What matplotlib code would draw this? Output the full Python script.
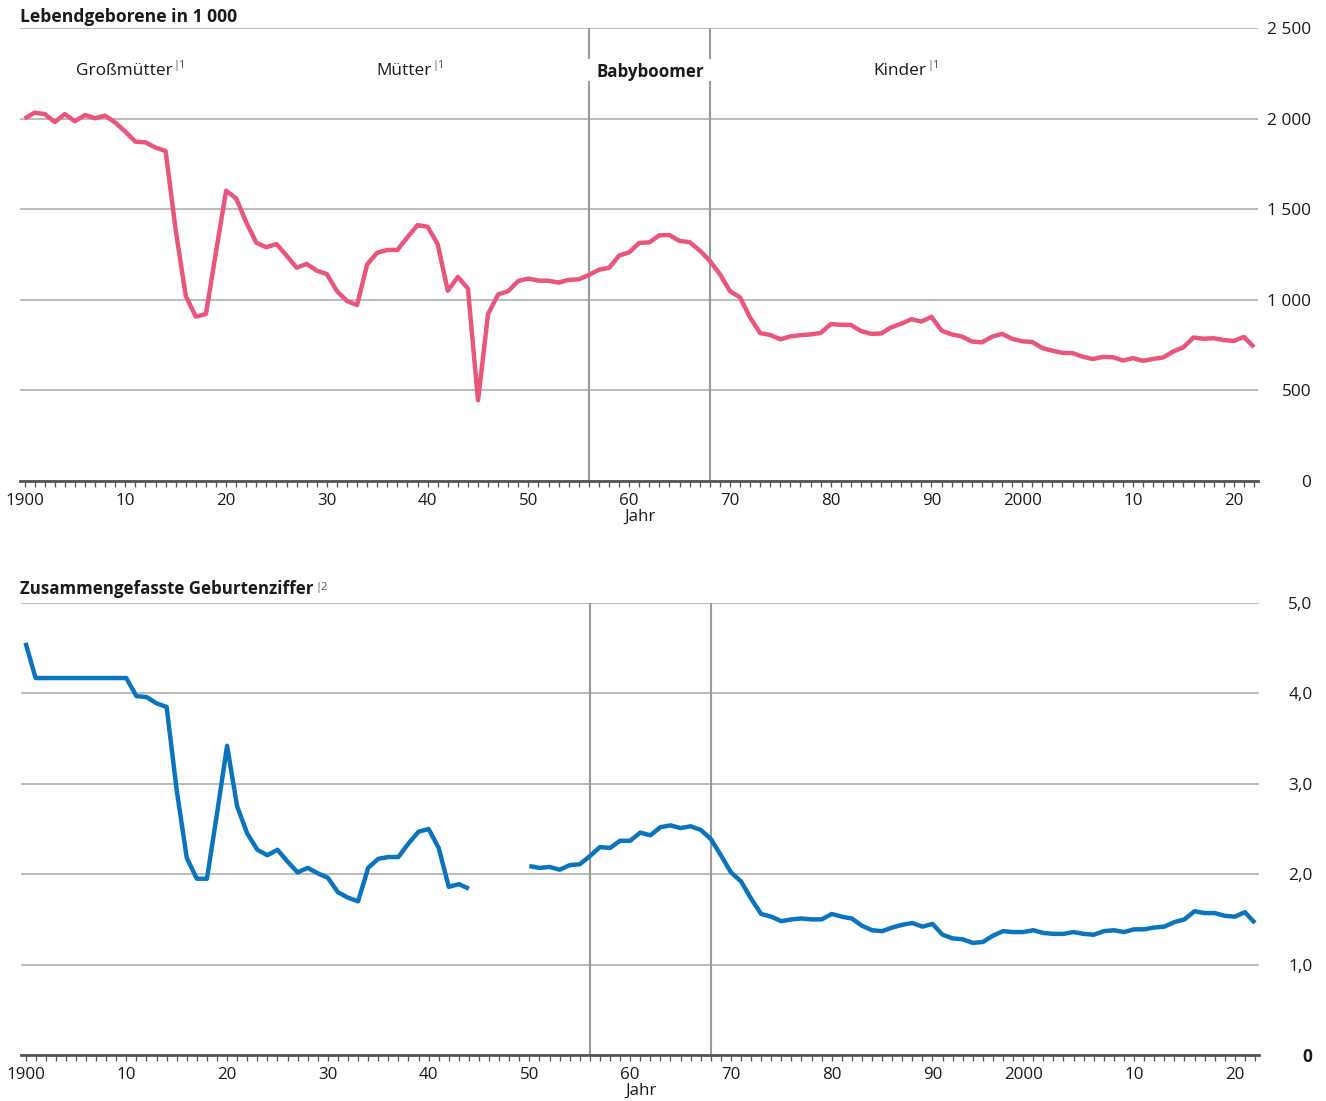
import numpy as np
import matplotlib
matplotlib.use("Agg")
import matplotlib.pyplot as plt
from matplotlib.transforms import ScaledTranslation

plt.rcParams['font.family'] = ['Open Sans', 'DejaVu Sans']

# ---------------- data ----------------
years = list(range(1900, 2023))

births = [2000, 2033, 2025, 1981, 2025, 1985, 2020, 2002, 2016, 1978,
          1928, 1873, 1869, 1840, 1821, 1385, 1021, 907, 922, 1264,
          1602, 1560, 1428, 1315, 1290, 1308, 1244, 1177, 1198, 1161,
          1142, 1048, 993, 971, 1196, 1260, 1275, 1275, 1345, 1412,
          1403, 1307, 1050, 1126, 1062, 445, 922, 1030, 1048, 1104,
          1117, 1106, 1105, 1095, 1110, 1113, 1137, 1166, 1176, 1244,
          1262, 1314, 1317, 1356, 1357, 1325, 1318, 1272, 1215, 1142,
          1048, 1013, 902, 816, 806, 782, 798, 805, 809, 817,
          866, 862, 861, 828, 812, 814, 848, 868, 893, 880,
          906, 830, 809, 798, 770, 765, 796, 812, 785, 771,
          767, 734, 719, 707, 706, 686, 673, 685, 683, 665,
          678, 663, 674, 682, 715, 738, 792, 785, 788, 778,
          773, 795, 739]

nan = float('nan')
tfr = [4.56, 4.17, 4.17, 4.17, 4.17, 4.17, 4.17, 4.17, 4.17, 4.17,
       4.17, 3.97, 3.96, 3.89, 3.85, 2.93, 2.18, 1.95, 1.95, 2.67,
       3.42, 2.75, 2.45, 2.27, 2.21, 2.27, 2.14, 2.02, 2.07, 2.01,
       1.96, 1.80, 1.74, 1.70, 2.07, 2.17, 2.19, 2.19, 2.34, 2.47,
       2.50, 2.29, 1.86, 1.89, 1.84, nan, nan, nan, nan, nan,
       2.09, 2.07, 2.08, 2.05, 2.10, 2.11, 2.20, 2.30, 2.29, 2.37,
       2.37, 2.46, 2.43, 2.52, 2.54, 2.51, 2.53, 2.49, 2.39, 2.21,
       2.02, 1.92, 1.73, 1.56, 1.53, 1.48, 1.50, 1.51, 1.50, 1.50,
       1.56, 1.53, 1.51, 1.43, 1.38, 1.37, 1.41, 1.44, 1.46, 1.42,
       1.45, 1.33, 1.29, 1.28, 1.24, 1.25, 1.32, 1.37, 1.36, 1.36,
       1.38, 1.35, 1.34, 1.34, 1.36, 1.34, 1.33, 1.37, 1.38, 1.36,
       1.39, 1.39, 1.41, 1.42, 1.47, 1.50, 1.59, 1.57, 1.57, 1.54,
       1.53, 1.58, 1.46]

x_major = list(range(1900, 2030, 10))
x_labels = ["1900", "10", "20", "30", "40", "50", "60", "70", "80", "90", "2000", "10", "20"]

top_yticks = [0, 500, 1000, 1500, 2000, 2500]
top_ylabels = ["0", "500", "1 000", "1 500", "2 000", "2 500"]
bot_yticks = [0, 1, 2, 3, 4, 5]
bot_ylabels = ["0", "1,0", "2,0", "3,0", "4,0", "5,0"]

boomer_start, boomer_end = 1956, 1968

top_title = "Lebendgeborene in 1 000"
bot_title = "Zusammengefasste Geburtenziffer"
generations = [("Großmütter", 76, "1"), ("Mütter", 376, "1"), ("Kinder", 873, "1")]

# ---------------- layout ----------------
W, H = 1326, 1101
fig = plt.figure(figsize=(W / 100, H / 100), dpi=100)
renderer = fig.canvas.get_renderer()

def fx(x):
    return x / W

def fy(y):
    return 1 - y / H

def fit_size(s, target_px, weight="normal", base=12.0):
    t = fig.text(0, 0, s, fontsize=base, fontweight=weight)
    w = t.get_window_extent(renderer).width
    t.remove()
    return base * target_px / w

PINK = "#E9567A"
BLUE = "#0A74BC"
GRID = "#A8A8A8"
VLINE = "#9A9A9A"
AXC = "#555555"
TXT = "#1A1A1A"
SUPC = "#555555"

fs_tick = fit_size("2000", 39)
fs_ylab = fit_size("2 500", 44)
fs_title = fit_size(top_title, 216, "bold")
fs_title2 = fit_size(bot_title, 292, "bold")
fs_gen = fit_size("Großmütter", 95.7)
fs_boom = fit_size("Babyboomer", 106.6, "bold")

ax1 = fig.add_axes([fx(20), fy(481), fx(1258) - fx(20), fy(28) - fy(481)])
ax2 = fig.add_axes([fx(21), fy(1055), fx(1259) - fx(21), fy(603) - fy(1055)])

TL = 4.3
TP = 4.5
for ax in (ax1, ax2):
    ax.set_xlim(1899.55, 2022.4)
    for s in ("top", "left", "right"):
        ax.spines[s].set_visible(False)
    ax.spines["bottom"].set_color(AXC)
    ax.spines["bottom"].set_linewidth(2.0)
    ax.spines["bottom"].set_zorder(5)
    labs = [l if l != "2000" else "" for l in x_labels]
    ax.set_xticks(x_major, labels=labs)
    ax.set_xticks(years, minor=True)
    ax.tick_params(axis="x", which="both", direction="out", length=TL,
                   width=0.9, color=AXC, pad=TP, labelsize=fs_tick, labelcolor=TXT)
    tr = ax.get_xaxis_transform() + ScaledTranslation(-10 / 100, -(TL + TP) / 72, fig.dpi_scale_trans)
    ax.text(2000, 0, "2000", transform=tr, ha="center", va="top", fontsize=fs_tick, color=TXT)
    ax.yaxis.tick_right()
    ax.tick_params(axis="y", length=0, pad=38.5, labelsize=fs_ylab, labelcolor=TXT)
    ax.grid(axis="y", color=GRID, lw=1.1)
    ax.set_axisbelow(True)
    ax.text(1961.1, 0, "Jahr", transform=ax.get_xaxis_transform() +
            ScaledTranslation(0, -28 / 100, fig.dpi_scale_trans),
            ha="center", va="top", fontsize=fs_tick, color=TXT)

# top chart
ax1.set_ylim(0, 2500)
ax1.set_yticks(top_yticks, labels=top_ylabels)
for l in ax1.get_yticklabels():
    l.set_horizontalalignment("right")
ax1.plot(years, births, color=PINK, lw=3.2, zorder=4, solid_capstyle="butt")
gap_lo = (481 - 82) / 453
gap_hi = (481 - 58) / 453
for xv in (boomer_start, boomer_end):
    ax1.axvline(xv, ymin=0, ymax=gap_lo, color=VLINE, lw=1.5, zorder=3)
    ax1.axvline(xv, ymin=gap_hi, ymax=1, color=VLINE, lw=1.5, zorder=3)

# bottom chart
ax2.set_ylim(0, 5)
ax2.set_yticks(bot_yticks, labels=bot_ylabels)
for l in ax2.get_yticklabels():
    l.set_horizontalalignment("right")
ax2.get_yticklabels()[0].set_fontweight("bold")
ax2.plot(years, tfr, color=BLUE, lw=3.2, zorder=4, solid_capstyle="butt")
for xv in (boomer_start, boomer_end):
    ax2.axvline(xv, color=VLINE, lw=1.5, zorder=3)

def with_sup(x, y, s, sup, fs, weight, sup_dy):
    t = fig.text(fx(x), fy(y), s, fontsize=fs, fontweight=weight, color=TXT,
                 ha="left", va="baseline")
    ext = t.get_window_extent(renderer)
    xr = ext.x1
    if sup:
        fig.text((xr + 1) / W, fy(y - sup_dy), "|" + sup, fontsize=8, color=SUPC,
                 ha="left", va="baseline")

with_sup(20.5, 22.5, top_title, None, fs_title, "bold", 0)
with_sup(20.5, 594, bot_title, "2", fs_title2, "bold", 4)
for name, xl, sup in generations:
    with_sup(xl, 75, name, sup, fs_gen, "normal", 7)
fig.text(fx(650), fy(77), "Babyboomer", fontsize=fs_boom, fontweight="bold",
         color=TXT, ha="center", va="baseline")

fig.savefig("out.png", dpi=100)
